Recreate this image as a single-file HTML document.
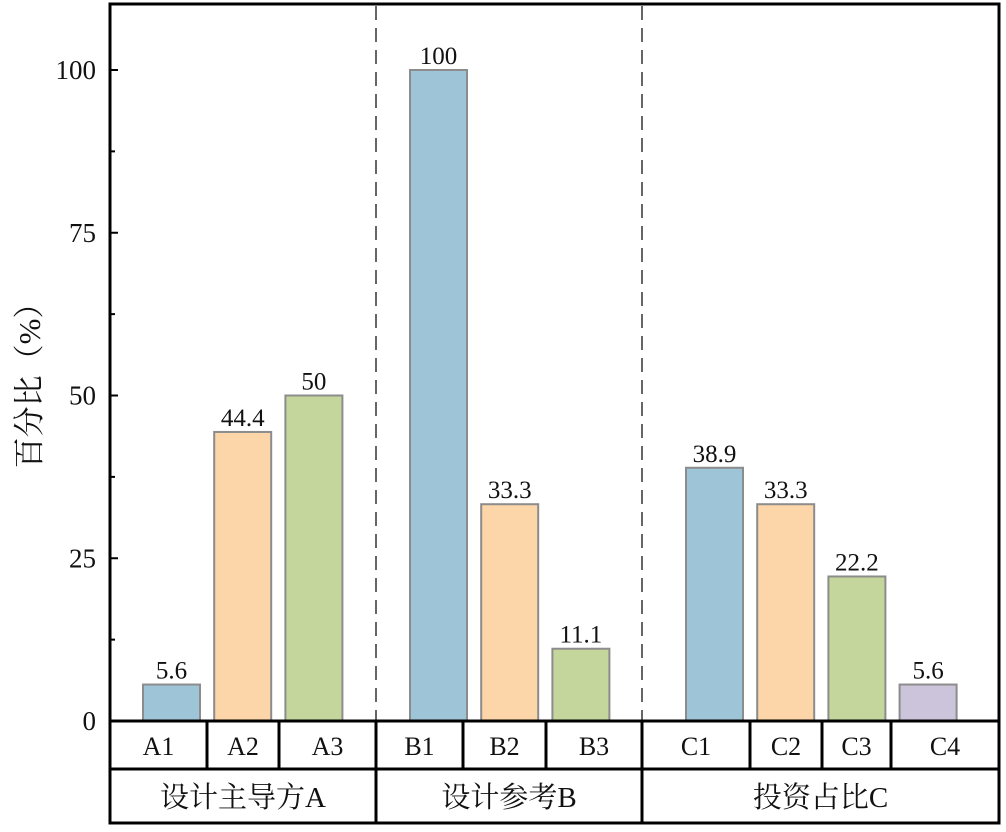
<!DOCTYPE html>
<html><head><meta charset="utf-8"><style>
body{margin:0;background:#fff}
svg text{font-family:"Liberation Serif","Noto Serif CJK SC",serif;fill:#111}
</style></head><body>
<svg id="c" width="1006" height="827" viewBox="0 0 1006 827"></svg>
<script>
const categories=["A1","A2","A3","B1","B2","B3","C1","C2","C3","C4"];
const values=[5.6,44.4,50,100,33.3,11.1,38.9,33.3,22.2,5.6];
const labels=["5.6","44.4","50","100","33.3","11.1","38.9","33.3","22.2","5.6"];
const groups=["设计主导方A","设计参考B","投资占比C"];
const groupOf=[0,0,0,1,1,1,2,2,2,2];
const colorIdx=[0,1,2,0,1,2,0,1,2,3];
const yTicks=[0,25,50,75,100];
const yTickLabels=["0","25","50","75","100"];

const NS="http://www.w3.org/2000/svg",svg=document.getElementById('c');
const colors=["#9ec4d8","#fcd5a8","#c5d69d","#ccc4da"];
const L=110,R=999,T=4,B=721;
const y=v=>721-v*6.51;
const groupStart=[171.5,438.5,714.5],slot=71.2,bw=57;
const cellEdges=[110,207,279,376,463,546,642,750,822,891,999];
const groupEdges=[110,376,642,999];
function el(t,a,txt){const e=document.createElementNS(NS,t);for(const k in a)e.setAttribute(k,a[k]);if(txt!==undefined)e.textContent=txt;svg.appendChild(e);return e;}
[376,642].forEach(x=>{const d=el('line',{x1:x,y1:T+2,x2:x,y2:B,stroke:'#666','stroke-width':2,'stroke-dasharray':'14 8'});

});
const firstIdx=[0,3,6];
categories.forEach((c,i)=>{const g=groupOf[i];const cx=groupStart[g]+(i-firstIdx[g])*slot;
const r=el('rect',{x:cx-bw/2,y:y(values[i]),width:bw,height:y(0)-y(values[i]),fill:colors[colorIdx[i]],stroke:'#8c8c8c','stroke-width':2});


const t=el('text',{x:cx,y:y(values[i])-6,'text-anchor':'middle','font-size':25},labels[i]);

});
const f=el('rect',{x:L,y:T,width:R-L,height:B-T,fill:'none',stroke:'#000','stroke-width':3});


yTicks.forEach((v,i)=>{el('line',{x1:L,y1:y(v),x2:L+8,y2:y(v),stroke:'#000','stroke-width':2});
if(i<yTicks.length-1){const m=(v+yTicks[i+1])/2;el('line',{x1:L,y1:y(m),x2:L+5,y2:y(m),stroke:'#000','stroke-width':2});}
const t=el('text',{x:96,y:y(v)+9,'text-anchor':'end','font-size':27},yTickLabels[i]);

});
const yt=el('text',{x:0,y:0,'font-size':31,'text-anchor':'middle',transform:'translate(40,378) rotate(-90)'},'百分比（%）');


el('rect',{x:L,y:B,width:R-L,height:823-B,fill:'none',stroke:'#000','stroke-width':3});
el('line',{x1:L,y1:769,x2:R,y2:769,stroke:'#000','stroke-width':3});
cellEdges.slice(1,-1).forEach(x=>el('line',{x1:x,y1:B,x2:x,y2:groupEdges.includes(x)?823:769,stroke:'#000','stroke-width':3}));
categories.forEach((c,i)=>{const t=el('text',{x:(cellEdges[i]+cellEdges[i+1])/2,y:755,'text-anchor':'middle','font-size':26},c);

});
groups.forEach((g,i)=>{const t=el('text',{x:(groupEdges[i]+groupEdges[i+1])/2,y:807,'text-anchor':'middle','font-size':29},g);

});
</script>
</body></html>
